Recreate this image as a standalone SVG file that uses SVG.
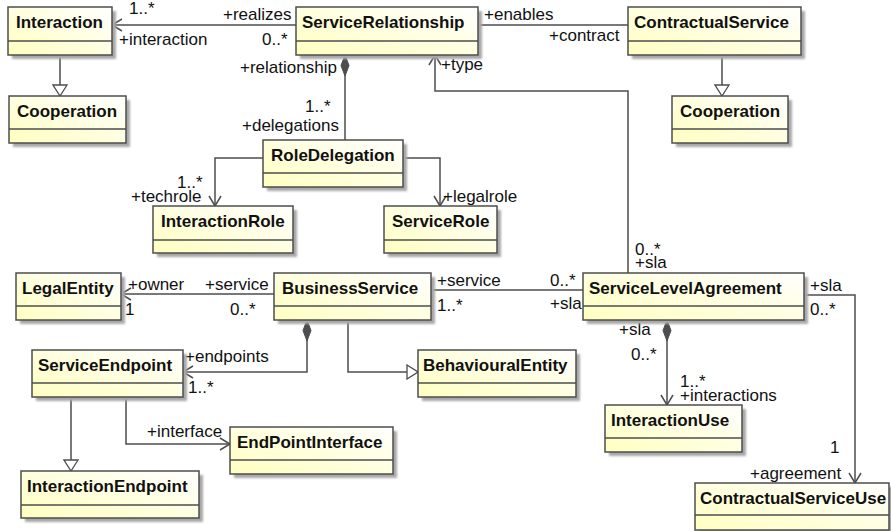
<svg xmlns="http://www.w3.org/2000/svg" width="891" height="531" viewBox="0 0 891 531">
<defs>
<linearGradient id="fill" x1="0" y1="1" x2="1" y2="0">
<stop offset="0" stop-color="#FFFFC0"/>
<stop offset="1" stop-color="#FFFFFF"/>
</linearGradient>
<filter id="blur" x="-10%" y="-10%" width="120%" height="130%">
<feGaussianBlur stdDeviation="1"/>
</filter>
<marker id="open" markerUnits="userSpaceOnUse" viewBox="0 0 12 14" refX="11" refY="7" markerWidth="12" markerHeight="14" orient="auto">
<path d="M1,1 L11,7 L1,13" fill="none" stroke="#4d4d4d" stroke-width="1.5"/>
</marker>
<marker id="tri" markerUnits="userSpaceOnUse" viewBox="0 0 13 16" refX="12" refY="8" markerWidth="13" markerHeight="16" orient="auto">
<path d="M1,1 L12,8 L1,15 Z" fill="#fff" stroke="#4d4d4d" stroke-width="1.3"/>
</marker>
<marker id="dia" markerUnits="userSpaceOnUse" viewBox="0 0 24 10" refX="1" refY="5" markerWidth="24" markerHeight="10" orient="auto">
<path d="M1,5 L11.5,1 L22,5 L11.5,9 Z" fill="#4d4d4d" stroke="#4d4d4d" stroke-width="1"/>
</marker>
</defs>
<style>
.sh{fill:#a8a8a8;filter:url(#blur)}
.bx{fill:url(#fill);stroke:#4d4d4d;stroke-width:1.5}
.dv{stroke:#4d4d4d;stroke-width:1.5}
.nm{font-family:"Liberation Sans",Arial,sans-serif;font-weight:bold;font-size:17px;fill:#111}
.lb{font-family:"Liberation Sans",Arial,sans-serif;font-size:17px;fill:#111}
.cn{fill:none;stroke:#4d4d4d;stroke-width:1.5}
</style>
<rect width="891" height="531" fill="#fff"/>

<g id="connectors">
<path class="cn" d="M296,25 H112" marker-end="url(#open)"/>
<path class="cn" d="M478,25 H628"/>
<path class="cn" d="M60,55 V96" marker-end="url(#tri)"/>
<path class="cn" d="M722,55 V96" marker-end="url(#tri)"/>
<path class="cn" d="M345,55 V140" marker-start="url(#dia)"/>
<path class="cn" d="M263,158 H215 V206" marker-end="url(#open)"/>
<path class="cn" d="M403,158 H440 V206" marker-end="url(#open)"/>
<path class="cn" d="M628,273 V91 H435 V55" marker-end="url(#open)"/>
<path class="cn" d="M274,294 H121" marker-end="url(#open)"/>
<path class="cn" d="M431,290 H583"/>
<path class="cn" d="M307,320 V372 H183" marker-start="url(#dia)" marker-end="url(#open)"/>
<path class="cn" d="M348,320 V372 H418" marker-end="url(#tri)"/>
<path class="cn" d="M667,320 V405" marker-start="url(#dia)" marker-end="url(#open)"/>
<path class="cn" d="M804,295 H855 V483" marker-end="url(#open)"/>
<path class="cn" d="M71,397 V471" marker-end="url(#tri)"/>
<path class="cn" d="M126,397 V444 H230" marker-end="url(#open)"/>

<g id="labels">
<text class="lb" x="129" y="14">1..*</text>
<text class="lb" x="223" y="20">+realizes</text>
<text class="lb" x="119" y="45">+interaction</text>
<text class="lb" x="262" y="45">0..*</text>
<text class="lb" x="484" y="20">+enables</text>
<text class="lb" x="549" y="41">+contract</text>
<text class="lb" x="240" y="73">+relationship</text>
<text class="lb" x="305" y="112">1..*</text>
<text class="lb" x="242" y="131">+delegations</text>
<text class="lb" x="441" y="70">+type</text>
<text class="lb" x="177" y="188">1..*</text>
<text class="lb" x="131" y="202">+techrole</text>
<text class="lb" x="443" y="202">+legalrole</text>
<text class="lb" x="635" y="255">0..*</text>
<text class="lb" x="635" y="268">+sla</text>
<text class="lb" x="128" y="290">+owner</text>
<text class="lb" x="125" y="315">1</text>
<text class="lb" x="205" y="290">+service</text>
<text class="lb" x="230" y="315">0..*</text>
<text class="lb" x="437" y="286">+service</text>
<text class="lb" x="437" y="311">1..*</text>
<text class="lb" x="550" y="286">0..*</text>
<text class="lb" x="550" y="309">+sla</text>
<text class="lb" x="810" y="291">+sla</text>
<text class="lb" x="810" y="315">0..*</text>
<text class="lb" x="619" y="335">+sla</text>
<text class="lb" x="631" y="360">0..*</text>
<text class="lb" x="680" y="387">1..*</text>
<text class="lb" x="680" y="401">+interactions</text>
<text class="lb" x="185" y="362">+endpoints</text>
<text class="lb" x="188" y="393">1..*</text>
<text class="lb" x="147" y="437">+interface</text>
<text class="lb" x="830" y="453">1</text>
<text class="lb" x="750" y="479">+agreement</text>
</g>
</g>

<g id="Interaction">
<rect class="sh" x="12" y="11" width="104" height="48"/>
<rect class="bx" x="8" y="7" width="104" height="48"/>
<line class="dv" x1="8" y1="41" x2="112" y2="41"/>
<text class="nm" x="16" y="28">Interaction</text>
</g>
<g id="ServiceRelationship">
<rect class="sh" x="300" y="11" width="182" height="48"/>
<rect class="bx" x="296" y="7" width="182" height="48"/>
<line class="dv" x1="296" y1="41" x2="478" y2="41"/>
<text class="nm" x="302" y="28">ServiceRelationship</text>
</g>
<g id="ContractualService">
<rect class="sh" x="632" y="11" width="173" height="48"/>
<rect class="bx" x="628" y="7" width="173" height="48"/>
<line class="dv" x1="628" y1="41" x2="801" y2="41"/>
<text class="nm" x="634" y="28">ContractualService</text>
</g>
<g id="Cooperation1">
<rect class="sh" x="13" y="100" width="117" height="47"/>
<rect class="bx" x="9" y="96" width="117" height="47"/>
<line class="dv" x1="9" y1="129" x2="126" y2="129"/>
<text class="nm" x="17" y="117">Cooperation</text>
</g>
<g id="Cooperation2">
<rect class="sh" x="676" y="100" width="116" height="47"/>
<rect class="bx" x="672" y="96" width="116" height="47"/>
<line class="dv" x1="672" y1="129" x2="788" y2="129"/>
<text class="nm" x="680" y="117">Cooperation</text>
</g>
<g id="RoleDelegation">
<rect class="sh" x="267" y="144" width="140" height="47"/>
<rect class="bx" x="263" y="140" width="140" height="47"/>
<line class="dv" x1="263" y1="173" x2="403" y2="173"/>
<text class="nm" x="271" y="161">RoleDelegation</text>
</g>
<g id="InteractionRole">
<rect class="sh" x="157" y="210" width="140" height="47"/>
<rect class="bx" x="153" y="206" width="140" height="47"/>
<line class="dv" x1="153" y1="240" x2="293" y2="240"/>
<text class="nm" x="161" y="227">InteractionRole</text>
</g>
<g id="ServiceRole">
<rect class="sh" x="388" y="210" width="113" height="47"/>
<rect class="bx" x="384" y="206" width="113" height="47"/>
<line class="dv" x1="384" y1="240" x2="497" y2="240"/>
<text class="nm" x="392" y="227">ServiceRole</text>
</g>
<g id="LegalEntity">
<rect class="sh" x="20" y="277" width="105" height="47"/>
<rect class="bx" x="16" y="273" width="105" height="47"/>
<line class="dv" x1="16" y1="306" x2="121" y2="306"/>
<text class="nm" x="22" y="294">LegalEntity</text>
</g>
<g id="BusinessService">
<rect class="sh" x="278" y="277" width="157" height="47"/>
<rect class="bx" x="274" y="273" width="157" height="47"/>
<line class="dv" x1="274" y1="306" x2="431" y2="306"/>
<text class="nm" x="282" y="294">BusinessService</text>
</g>
<g id="ServiceLevelAgreement">
<rect class="sh" x="587" y="277" width="221" height="47"/>
<rect class="bx" x="583" y="273" width="221" height="47"/>
<line class="dv" x1="583" y1="306" x2="804" y2="306"/>
<text class="nm" x="589" y="294">ServiceLevelAgreement</text>
</g>
<g id="ServiceEndpoint">
<rect class="sh" x="36" y="354" width="151" height="47"/>
<rect class="bx" x="32" y="350" width="151" height="47"/>
<line class="dv" x1="32" y1="383" x2="183" y2="383"/>
<text class="nm" x="38" y="371">ServiceEndpoint</text>
</g>
<g id="BehaviouralEntity">
<rect class="sh" x="422" y="354" width="158" height="47"/>
<rect class="bx" x="418" y="350" width="158" height="47"/>
<line class="dv" x1="418" y1="383" x2="576" y2="383"/>
<text class="nm" x="423" y="371">BehaviouralEntity</text>
</g>
<g id="InteractionUse">
<rect class="sh" x="609" y="409" width="137" height="47"/>
<rect class="bx" x="605" y="405" width="137" height="47"/>
<line class="dv" x1="605" y1="438" x2="742" y2="438"/>
<text class="nm" x="611" y="426">InteractionUse</text>
</g>
<g id="EndPointInterface">
<rect class="sh" x="234" y="431" width="163" height="47"/>
<rect class="bx" x="230" y="427" width="163" height="47"/>
<line class="dv" x1="230" y1="460" x2="393" y2="460"/>
<text class="nm" x="237" y="448">EndPointInterface</text>
</g>
<g id="InteractionEndpoint">
<rect class="sh" x="25" y="475" width="178" height="47"/>
<rect class="bx" x="21" y="471" width="178" height="47"/>
<line class="dv" x1="21" y1="505" x2="199" y2="505"/>
<text class="nm" x="27" y="492">InteractionEndpoint</text>
</g>
<g id="ContractualServiceUse">
<rect class="sh" x="699" y="487" width="194" height="47"/>
<rect class="bx" x="695" y="483" width="194" height="47"/>
<line class="dv" x1="695" y1="515" x2="889" y2="515"/>
<text class="nm" x="700" y="504">ContractualServiceUse</text>
</g>
</svg>
